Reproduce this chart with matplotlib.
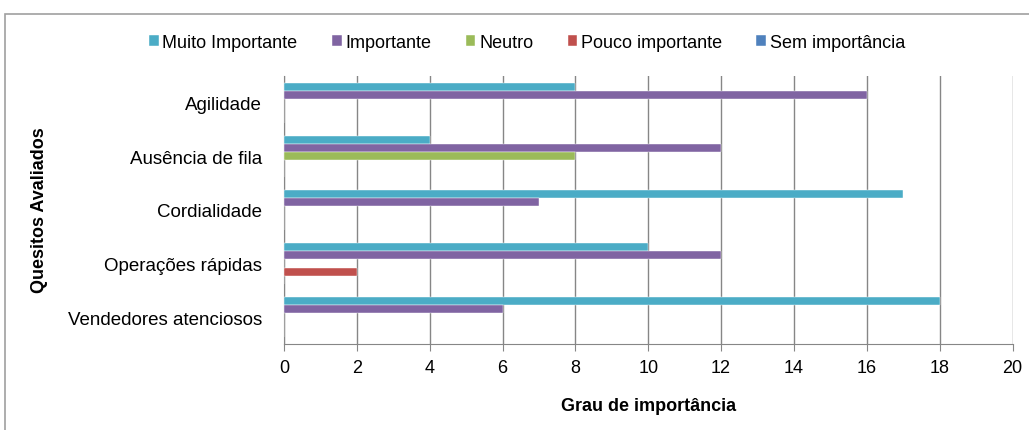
import matplotlib
matplotlib.use('Agg')
import matplotlib.pyplot as plt
import numpy as np
from matplotlib.patches import Rectangle

plt.rcParams['font.family'] = ['Liberation Sans', 'DejaVu Sans']

quesitos = ['Agilidade', 'Ausência de fila', 'Cordialidade',
            'Operações rápidas', 'Vendedores atenciosos']
series = ['Muito Importante', 'Importante', 'Neutro',
          'Pouco importante', 'Sem importância']
muito_importante = [8, 4, 17, 10, 18]
importante = [16, 12, 7, 12, 6]
neutro = [0, 8, 0, 0, 0]
pouco_importante = [0, 0, 0, 2, 0]
sem_importancia = [0, 0, 0, 0, 0]
cores = ['#4BACC6', '#8064A2', '#9BBB59', '#C0504D', '#4F81BD']

valores = [muito_importante, importante, neutro, pouco_importante, sem_importancia]

fig = plt.figure(figsize=(10.29, 4.31), dpi=100)
ax = fig.add_axes([0.276, 0.2, 0.708, 0.621])

# moldura do grafico
fig.patches.append(Rectangle((5 / 1029, -0.1), 1.2, 1 - 15 / 431 + 0.1,
                             transform=fig.transFigure, fill=False,
                             edgecolor='#A0A0A0', linewidth=1.2))

n = len(quesitos)
y = np.arange(n)
h = 0.151
for i, (nome, vals, cor) in enumerate(zip(series, valores, cores)):
    ax.barh(y - 2 * h + i * h, vals, height=h, color=cor, label=nome,
            edgecolor='white', linewidth=0.3, zorder=3)

ax.set_ylim(n - 0.5, -0.5)
ax.set_xlim(0, 20)
ax.set_xticks(range(0, 21, 2))
ax.set_yticks(y)
ax.set_yticklabels(quesitos)
ax.tick_params(axis='y', length=0, pad=16, labelsize=13.5)
ax.tick_params(axis='x', length=5, color='#868686', pad=6, labelsize=13)
ax.xaxis.grid(True, color='#868686', linewidth=1, zorder=0)
for s in ['top', 'right']:
    ax.spines[s].set_visible(False)
ax.spines['left'].set_color('#868686')
ax.spines['bottom'].set_color('#868686')

ax.set_xlabel('Grau de importância', fontweight='bold', fontsize=13, labelpad=15)
fig.text(40 / 1029, 1 - 210 / 431, 'Quesitos Avaliados', rotation=90,
         fontweight='bold', fontsize=13, ha='center', va='center')

fig.legend(loc='center', bbox_to_anchor=(527 / 1029, 1 - 43 / 431), ncol=5,
           frameon=False, fontsize=13, handlelength=0.55, handleheight=0.55,
           handletextpad=0.2, columnspacing=1.9)

fig.savefig('out.png', dpi=100)
